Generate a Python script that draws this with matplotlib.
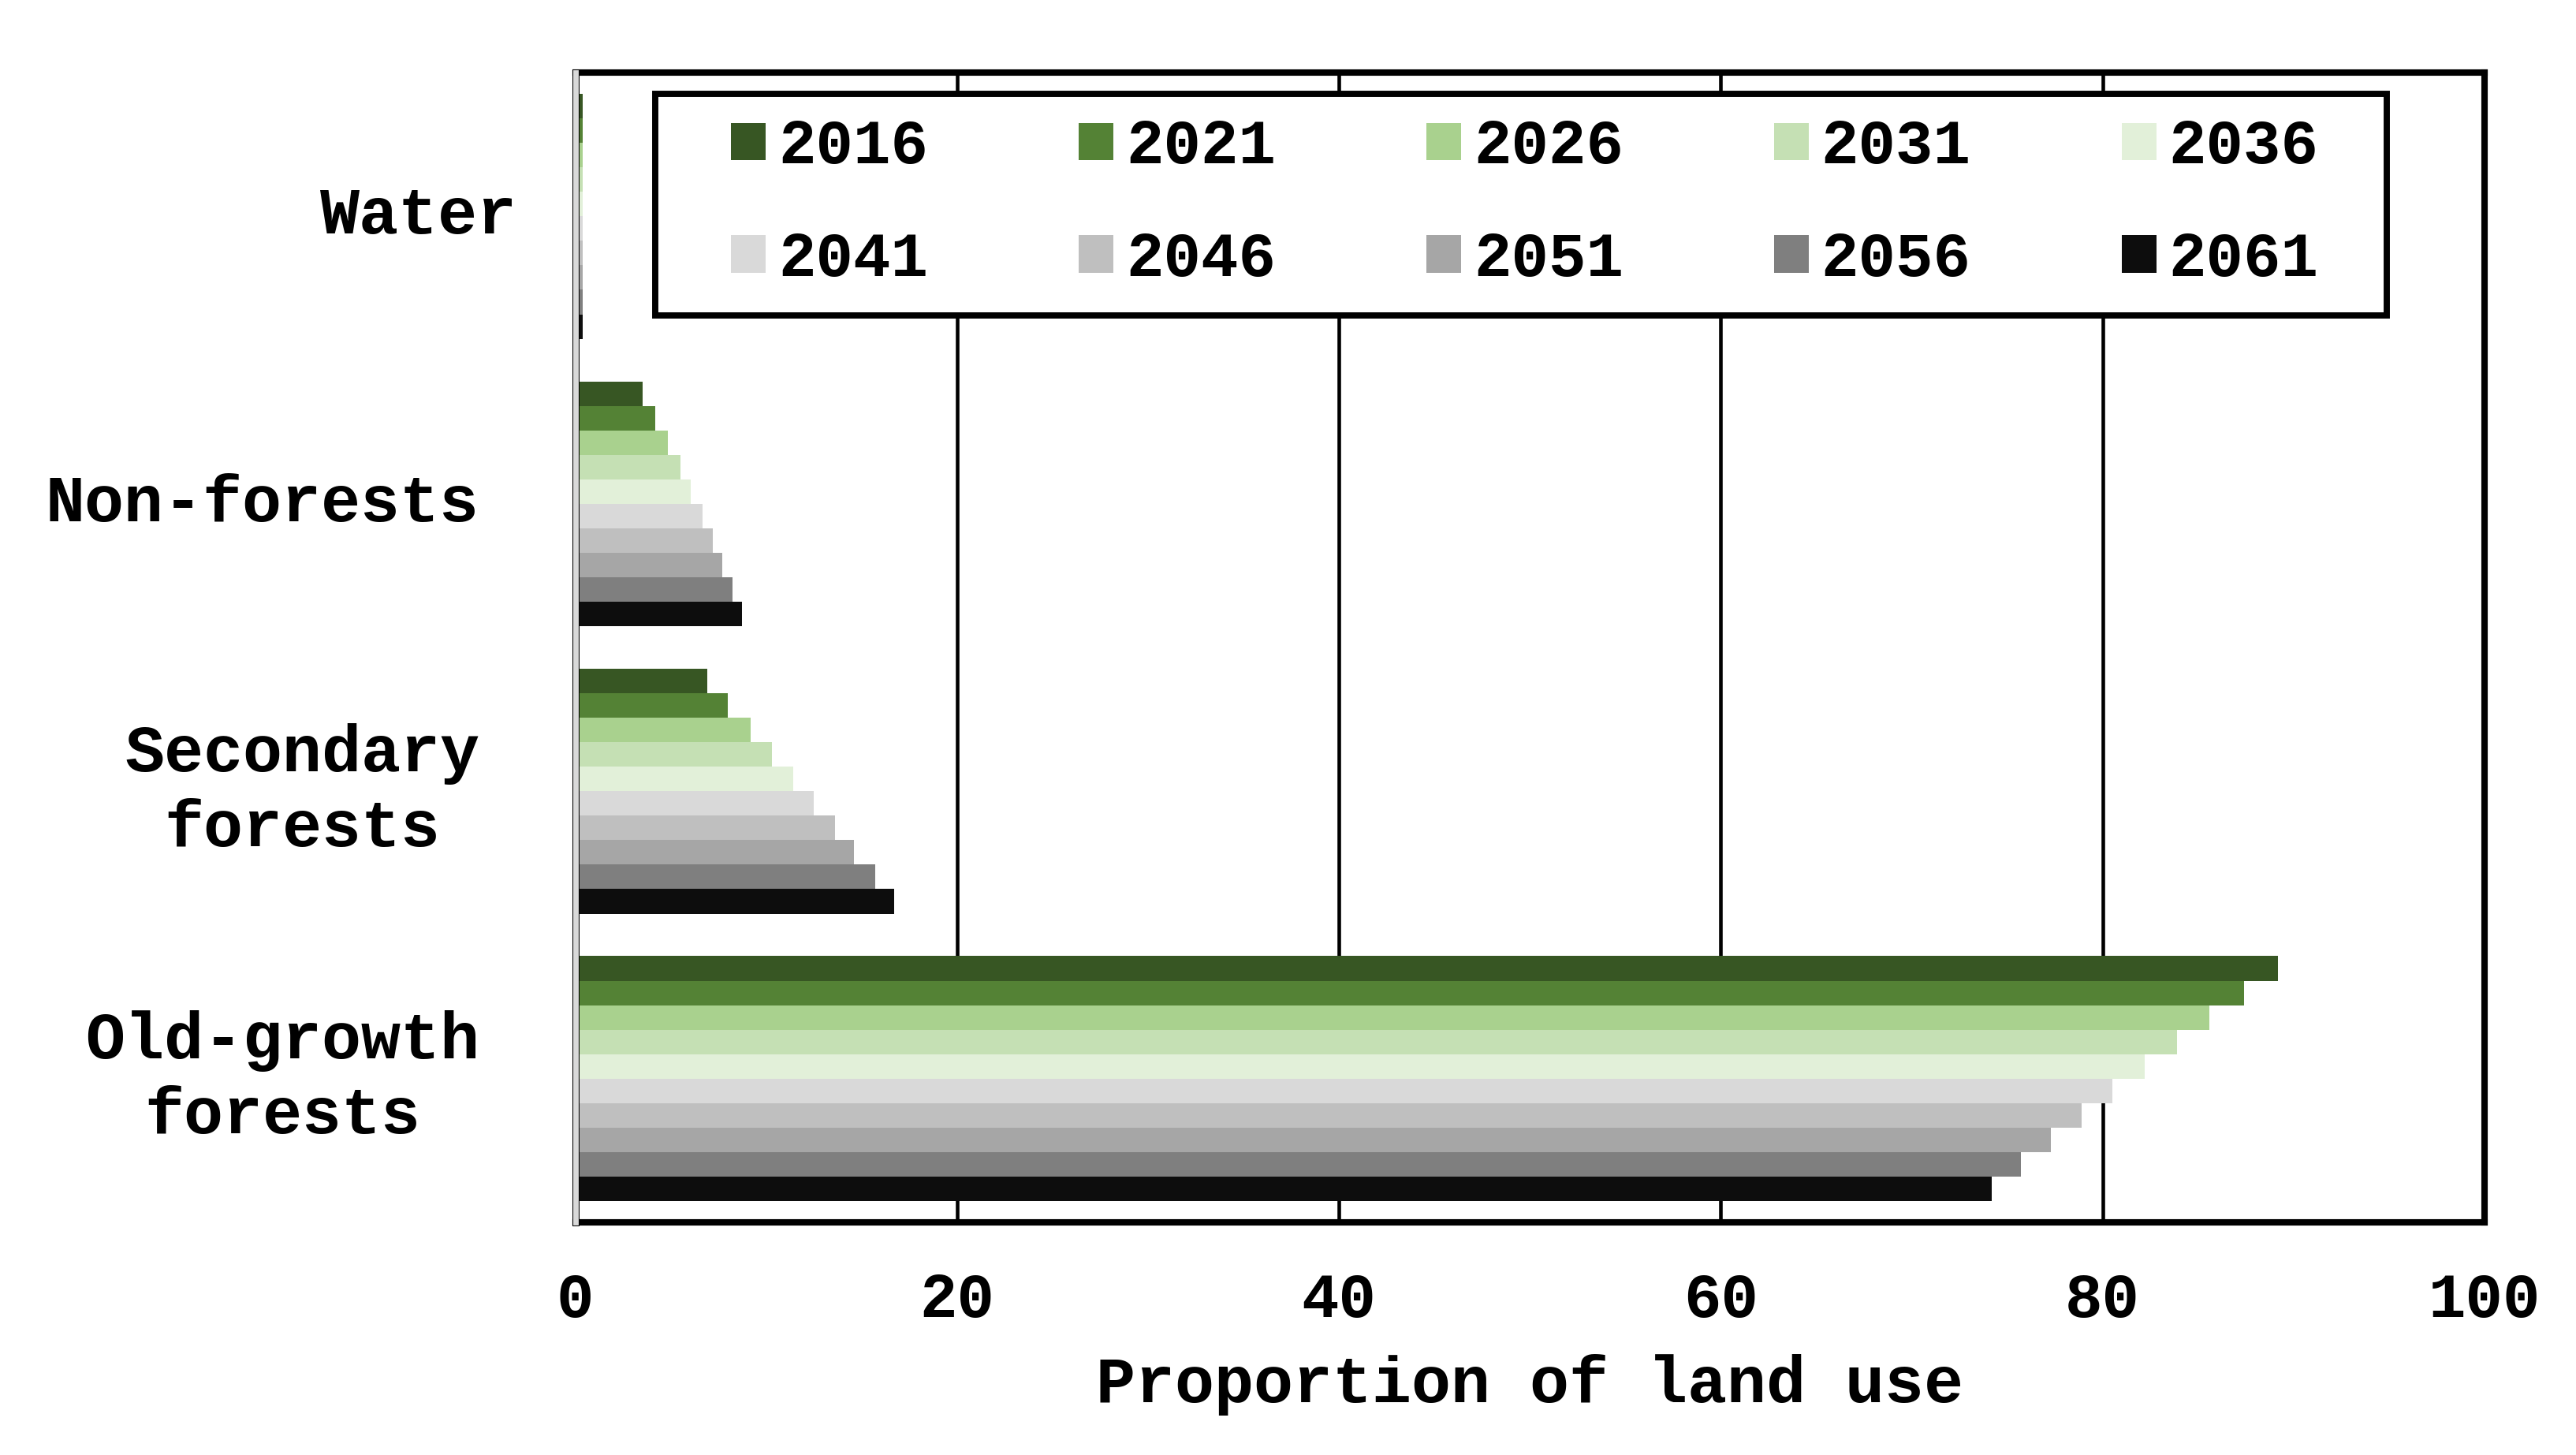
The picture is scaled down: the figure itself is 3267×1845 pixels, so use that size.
import matplotlib
matplotlib.use("Agg")
import matplotlib.pyplot as plt
import matplotlib.patheffects as pe
from matplotlib.patches import Rectangle
import numpy as np

plt.rcParams["font.family"] = ["Liberation Mono", "DejaVu Sans Mono"]
plt.rcParams["font.weight"] = "bold"

# categories, bottom to top as drawn
categories = ["Old-growth\nforests", "Secondary\nforests", "Non-forests", "Water"]
years = ["2016", "2021", "2026", "2031", "2036", "2041", "2046", "2051", "2056", "2061"]

old_growth = [89.2, 87.4, 85.6, 83.9, 82.2, 80.5, 78.9, 77.3, 75.7, 74.2]
secondary = [6.9, 8.0, 9.2, 10.3, 11.4, 12.5, 13.6, 14.6, 15.7, 16.7]
non_forests = [3.55, 4.2, 4.85, 5.5, 6.05, 6.65, 7.2, 7.7, 8.25, 8.75]
water = [0.4, 0.4, 0.4, 0.4, 0.4, 0.4, 0.4, 0.4, 0.4, 0.4]

colours = ["#375623", "#548235", "#A9D18E", "#C5E0B4", "#E2F0D9",
           "#D9D9D9", "#BFBFBF", "#A6A6A6", "#7F7F7F", "#0D0D0D"]

series = np.array([old_growth, secondary, non_forests, water])  # cat x year

fig = plt.figure(figsize=(3267 / 300, 1845 / 300), dpi=300)
ax = fig.add_axes([0.2233, 0.1599, 0.7412, 0.7902])

h = 0.0852
n = len(years)
bars = []
for i, year in enumerate(years):
    offset = 0.5 * n * h - (i + 0.5) * h
    b = ax.barh(np.arange(len(categories)) + offset, series[:, i], height=h,
                color=colours[i], label=year, zorder=2, linewidth=0)
    bars.append(b)

ax.set_xlim(0, 100)
ax.set_ylim(-0.5, 3.5)
ax.set_xticks([0, 20, 40, 60, 80, 100])
ax.set_yticks([])
ax.xaxis.grid(True, color="black", linewidth=1.1)
ax.set_axisbelow(True)
ax.tick_params(axis="x", length=0, pad=15, labelsize=19)

for side in ["top", "right", "bottom"]:
    ax.spines[side].set_linewidth(1.95)
    ax.spines[side].set_color("black")
ax.spines["left"].set_color("#D9D9D9")
ax.spines["left"].set_linewidth(1.65)
ax.spines["left"].set_zorder(3)
ax.spines["left"].set_path_effects([pe.Stroke(linewidth=2.15, foreground="black"), pe.Normal()])

# category labels
label_x = [-0.0502, -0.0502, -0.0502, -0.0303]
for i, cat in enumerate(categories):
    ax.text(label_x[i], i, cat, transform=ax.get_yaxis_transform(),
            ha="right", va="center", multialignment="center",
            fontsize=20, linespacing=1.28)

ax.set_xlabel("Proportion of land use", fontsize=20, fontweight="bold", labelpad=7)

# legend box
ax.add_patch(Rectangle((0.0421, 0.7888), 0.9067, 0.1927, transform=ax.transAxes,
                       facecolor="white", edgecolor="black", linewidth=1.9,
                       zorder=4))
# legend fills column by column, so interleave to read row-wise
order = [0, 5, 1, 6, 2, 7, 3, 8, 4, 9]
ax.legend([bars[k] for k in order], [years[k] for k in order],
          loc="center", bbox_to_anchor=(0.0421 + 0.9067 / 2 + 0.002, 0.7888 + 0.1927 / 2 + 0.001),
          ncol=5, frameon=False, fontsize=19, handlelength=0.55,
          handleheight=0.55, handletextpad=0.2, columnspacing=2.42,
          labelspacing=0.85, borderpad=0)
ax.get_legend().set_zorder(5)

fig.savefig("out.png", dpi=300)
